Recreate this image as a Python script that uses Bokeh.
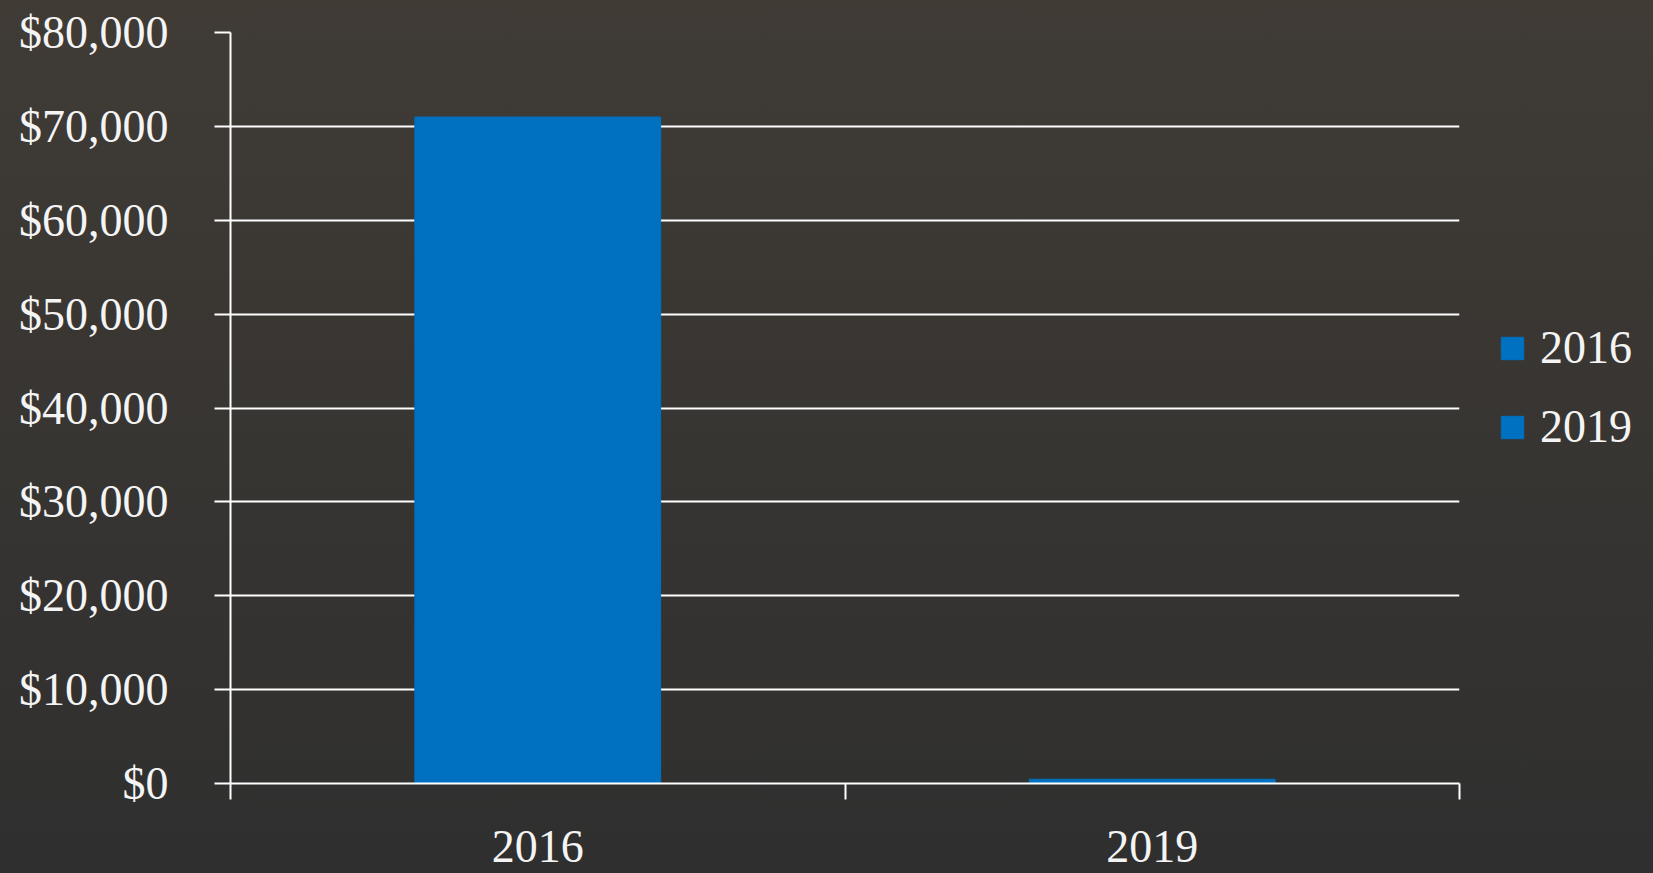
from bokeh.plotting import figure
from bokeh.models import (ColumnDataSource, FixedTicker, NumeralTickFormatter,
                          Range1d, Legend, LegendItem)
from bokeh.embed import file_html
from bokeh.resources import INLINE

# ---- data ----
years = ["2016", "2019"]
values = [71000, 450]
y_ticks = [0, 10000, 20000, 30000, 40000, 50000, 60000, 70000, 80000]
bar_color = "#0070C0"

FONT = "Liberation Serif"
TXT = "#f4f4f4"

x_pos = [i + 0.5 for i in range(len(years))]
src = ColumnDataSource(dict(x=x_pos, top=values, year=years))

p = figure(width=1653, height=873, frame_width=1229, frame_height=751,
           output_backend="svg", toolbar_location=None,
           x_range=Range1d(0, len(years)), y_range=Range1d(0, 80000),
           min_border_left=230, min_border_right=0, min_border_top=32,
           min_border_bottom=90)
p.border_fill_color = None
p.background_fill_color = None
p.outline_line_color = None

r = p.vbar(x="x", top="top", width=0.4, source=src, color=bar_color)

# legend: one item per year
items = [LegendItem(label=y, renderers=[r], index=i) for i, y in enumerate(years)]
legend = Legend(items=items, location=(39, 330), orientation="vertical")
legend.background_fill_alpha = 0
legend.border_line_color = None
legend.label_text_font = FONT
legend.label_text_font_size = "46px"
legend.label_text_color = TXT
legend.glyph_width = 28
legend.glyph_height = 28
legend.spacing = 26
legend.label_standoff = 14
legend.padding = 0
legend.margin = 0
p.add_layout(legend, "right")

# y axis
ya = p.yaxis[0]
ya.ticker = FixedTicker(ticks=y_ticks)
ya.formatter = NumeralTickFormatter(format="$0,0")
ya.axis_line_color = "white"
ya.axis_line_width = 2
ya.major_tick_line_color = "white"
ya.major_tick_line_width = 2
ya.major_tick_out = 16
ya.major_tick_in = 0
ya.minor_tick_line_color = None
ya.major_label_standoff = 46
ya.major_label_text_font = FONT
ya.major_label_text_font_size = "46px"
ya.major_label_text_color = TXT

# x axis: labels at centres, ticks at category boundaries
xa = p.xaxis[0]
xa.ticker = FixedTicker(ticks=x_pos, minor_ticks=list(range(len(years) + 1)))
xa.major_label_overrides = {x: y for x, y in zip(x_pos, years)}
xa.axis_line_color = "white"
xa.axis_line_width = 2
xa.major_tick_line_color = None
xa.major_tick_out = 0
xa.major_tick_in = 0
xa.minor_tick_line_color = "white"
xa.minor_tick_line_width = 2
xa.minor_tick_out = 16
xa.minor_tick_in = 0
xa.major_label_standoff = 31
xa.major_label_text_font = FONT
xa.major_label_text_font_size = "46px"
xa.major_label_text_color = TXT

p.xgrid.grid_line_color = None
p.ygrid.grid_line_color = "white"
p.ygrid.grid_line_width = 2
p.ygrid.ticker = FixedTicker(ticks=y_ticks)

html = file_html(p, INLINE)
style = ("<style>html{min-height:100%;background:linear-gradient(to bottom,#403b35,#2f2f2f) fixed;}"
         "body{margin:0;background:transparent;overflow:hidden;}</style>")
html = html.replace("</head>", style + "</head>", 1)
open("out.html", "w").write(html)
